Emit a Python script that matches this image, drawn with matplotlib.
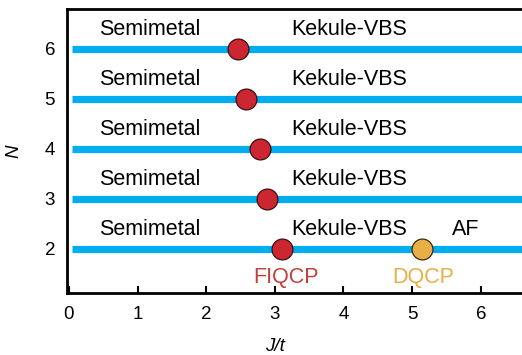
import matplotlib.pyplot as plt

plt.rcParams['font.family'] = ['Liberation Sans', 'DejaVu Sans']

N_values = [2, 3, 4, 5, 6]
fiqcp_J = [3.11, 2.89, 2.79, 2.58, 2.47]
dqcp_J = 5.14
dqcp_N = 2

fig = plt.figure(figsize=(5.22, 3.55), dpi=100)
ax = fig.add_axes([0.128, 0.175, 0.872, 0.80])

blue = '#00AEEF'
red = '#CC2630'
orange = '#E8AF48'
fs = 15.5

for n, jc in zip(N_values, fiqcp_J):
    ax.plot([0.04, 6.6], [n, n], color=blue, lw=5.2, solid_capstyle='butt', zorder=1)
    ax.plot(jc, n, 'o', ms=15, mfc=red, mec='#3a1010', mew=0.9, zorder=3)
    ax.text(1.18, n + 0.27, 'Semimetal', ha='center', va='baseline', fontsize=fs)
    ax.text(4.09, n + 0.27, 'Kekule-VBS', ha='center', va='baseline', fontsize=fs)

ax.plot(dqcp_J, dqcp_N, 'o', ms=15, mfc=orange, mec='#3a2a10', mew=0.9, zorder=3)
ax.text(5.78, 2.27, 'AF', ha='center', va='baseline', fontsize=fs)
ax.text(3.16, 1.32, 'FIQCP', ha='center', va='baseline', fontsize=fs, color='#C0403A')
ax.text(5.16, 1.32, 'DQCP', ha='center', va='baseline', fontsize=fs, color=orange)

ax.set_xlim(-0.03, 6.6)
ax.set_ylim(1.12, 6.8)
ax.set_xticks(range(0, 7))
ax.set_yticks(N_values)
ax.tick_params(axis='x', direction='in', length=5, width=1.5, labelsize=13.5, pad=9.5)
ax.tick_params(axis='y', length=0, labelsize=13.5, pad=8.5)
for side in ['left', 'bottom', 'top']:
    ax.spines[side].set_linewidth(2)
ax.spines['right'].set_visible(False)

ax.set_xlabel('J/t', fontsize=13.5, style='italic')
ax.xaxis.set_label_coords(0.457, -0.16)
ax.set_ylabel('N', fontsize=13.5, style='italic')
ax.yaxis.set_label_coords(-0.098, 0.5)

fig.savefig('out.png', dpi=100)
